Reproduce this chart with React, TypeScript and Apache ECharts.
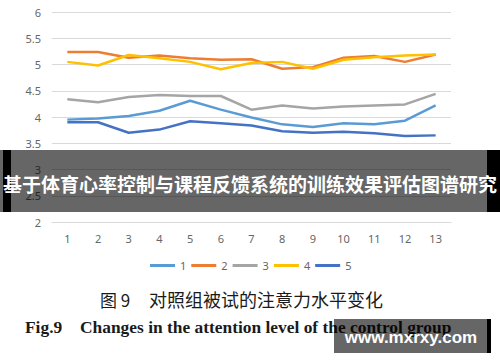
import React, { useEffect, useRef } from "react";
import * as echarts from "echarts";

const categories = ["1", "2", "3", "4", "5", "6", "7", "8", "9", "10", "11", "12", "13"];
const seriesNames = ["1", "2", "3", "4", "5"];
const s1 = [3.95, 3.97, 4.02, 4.12, 4.31, 4.14, 3.99, 3.86, 3.81, 3.88, 3.86, 3.93, 4.22];
const s2 = [5.24, 5.24, 5.13, 5.17, 5.12, 5.09, 5.1, 4.92, 4.95, 5.13, 5.16, 5.05, 5.19];
const s3 = [4.34, 4.28, 4.38, 4.42, 4.4, 4.4, 4.14, 4.22, 4.16, 4.2, 4.22, 4.24, 4.44];
const s4 = [5.05, 4.98, 5.18, 5.12, 5.05, 4.91, 5.03, 5.05, 4.92, 5.09, 5.14, 5.17, 5.19];
const s5 = [3.9, 3.9, 3.7, 3.76, 3.92, 3.88, 3.84, 3.73, 3.7, 3.72, 3.69, 3.64, 3.65];
const seriesData = [s1, s2, s3, s4, s5];
const colors = ["#5B9BD5", "#ED7D31", "#A5A5A5", "#FFC000", "#4472C4"];
const bannerText = "基于体育心率控制与课程反馈系统的训练效果评估图谱研究";
const captionCnNum = "图 9";
const captionCn = "对照组被试的注意力水平变化";
const captionEnNum = "Fig.9";
const captionEn = "Changes in the attention level of the control group";
const watermark = "www.mxrxy.com";

export default function App() {
  const ref = useRef<HTMLDivElement>(null);
  useEffect(() => {
    if (!ref.current) return;
    const chart = echarts.init(ref.current, undefined, { renderer: "svg" });
    chart.setOption({
      animation: false,
      backgroundColor: "#ffffff",
      grid: { left: 52, right: 49, top: 12, height: 210, containLabel: false },
      legend: {
        data: seriesNames,
        top: 255,
        left: 145,
        icon: "rect",
        itemWidth: 25,
        itemHeight: 3,
        itemGap: 5,
        textStyle: { color: "#666", fontSize: 11, fontFamily: "Noto Sans" },
      },
      xAxis: {
        type: "category",
        data: categories,
        boundaryGap: true,
        axisLine: { lineStyle: { color: "#d9d9d9" } },
        axisTick: { show: false },
        axisLabel: { color: "#666", fontSize: 11, margin: 11, fontFamily: "Noto Sans" },
      },
      yAxis: {
        type: "value",
        min: 2,
        max: 6,
        interval: 0.5,
        axisLine: { show: false },
        axisTick: { show: false },
        splitLine: { lineStyle: { color: "#d9d9d9", width: 1 } },
        axisLabel: { color: "#666", fontSize: 11, margin: 11, fontFamily: "Noto Sans" },
      },
      series: seriesData.map((d, i) => ({
        name: seriesNames[i],
        type: "line",
        data: d,
        showSymbol: false,
        symbol: "none",
        lineStyle: { color: colors[i], width: 2.5 },
        itemStyle: { color: colors[i] },
      })),
      graphic: [
        { type: "rect", z: 100, shape: { x: 0, y: 150, width: 500, height: 62 }, style: { fill: "rgba(0,0,0,0.6)" } },
        { type: "rect", z: 101, shape: { x: 3, y: 150, width: 8, height: 62 }, style: { fill: "#000" } },
        { type: "rect", z: 101, shape: { x: 487, y: 150, width: 13, height: 62 }, style: { fill: "#000" } },
        {
          type: "text",
          z: 102,
          x: 250,
          y: 183,
          style: {
            text: bannerText,
            fill: "#fff",
            font: "bold 19px 'Noto Sans CJK SC'",
            textAlign: "center",
            textVerticalAlign: "middle",
          },
        },
        {
          type: "text",
          z: 100,
          x: 100,
          y: 299,
          style: {
            text: captionCnNum,
            fill: "#1a1a1a",
            font: "17px 'Noto Sans CJK SC'",
            textAlign: "left",
            textVerticalAlign: "middle",
          },
        },
        {
          type: "text",
          z: 100,
          x: 149,
          y: 299,
          style: {
            text: captionCn,
            fill: "#1a1a1a",
            font: "18px 'Noto Sans CJK SC'",
            textAlign: "left",
            textVerticalAlign: "middle",
          },
        },
        {
          type: "text",
          z: 100,
          x: 25,
          y: 327,
          style: {
            text: captionEnNum,
            fill: "#1a1a1a",
            font: "bold 17.4px 'Liberation Serif'",
            textAlign: "left",
            textVerticalAlign: "middle",
          },
        },
        {
          type: "text",
          z: 100,
          x: 80,
          y: 327,
          style: {
            text: captionEn,
            fill: "#1a1a1a",
            font: "bold 17.4px 'Liberation Serif'",
            textAlign: "left",
            textVerticalAlign: "middle",
          },
        },
        { type: "rect", z: 103, shape: { x: 334, y: 319, width: 153, height: 34 }, style: { fill: "rgba(0,0,0,0.6)" } },
        { type: "rect", z: 103, shape: { x: 487, y: 319, width: 4, height: 34 }, style: { fill: "#000" } },
        {
          type: "text",
          z: 104,
          x: 411,
          y: 337,
          style: {
            text: watermark,
            fill: "#fff",
            font: "bold 17px 'Liberation Sans'",
            textAlign: "center",
            textVerticalAlign: "middle",
          },
        },
      ],
    });
    return () => chart.dispose();
  }, []);
  return <div ref={ref} style={{ position: "fixed", left: 0, top: 0, width: 500, height: 362 }} />;
}
